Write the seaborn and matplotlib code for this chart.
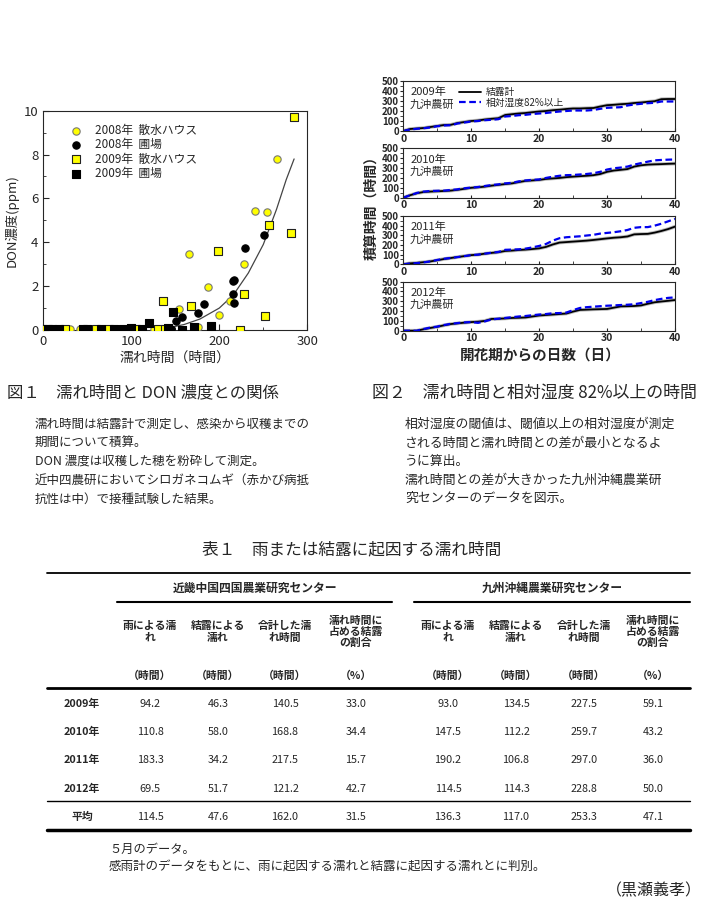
import matplotlib
matplotlib.use("Agg")
import matplotlib.pyplot as plt
from matplotlib.ticker import MultipleLocator
import seaborn as sns

# ---- Figure 1: wetness duration vs DON concentration ----
h08_x = [2, 30, 42, 126, 140, 176, 154, 165, 187, 200, 212, 228, 241, 254, 266]
h08_y = [0.03, 0.03, 0.03, 0.03, 0.03, 0.12, 0.94, 3.47, 1.95, 0.67, 1.32, 3.02, 5.43, 5.40, 7.81]
f08_x = [8, 15, 55, 70, 85, 110, 145, 151, 158, 176, 183, 216, 217, 217, 216, 229, 251]
f08_y = [0.03, 0.03, 0.03, 0.03, 0.03, 0.03, 0.03, 0.43, 0.57, 0.76, 1.17, 1.65, 1.22, 2.30, 2.25, 3.75, 4.33]
h09_x = [0, 25, 60, 75, 100, 105, 130, 138, 224, 136, 168, 199, 228, 252, 257, 282, 285]
h09_y = [0.03, 0.03, 0.03, 0.03, 0.03, 0.03, 0.03, 0.03, 0.0, 1.31, 1.11, 3.62, 1.66, 0.62, 4.77, 4.44, 9.73]
f09_x = [5, 10, 18, 45, 50, 65, 80, 90, 112, 100, 142, 158, 171, 190, 120, 147]
f09_y = [0.03, 0.03, 0.03, 0.03, 0.03, 0.03, 0.03, 0.03, 0.03, 0.1, 0.1, 0.0, 0.12, 0.18, 0.32, 0.84]

# trend curve
fit_x = [125, 140, 160, 178, 200, 216, 233, 250, 265, 276, 285]
fit_y = [0.0, 0.08, 0.25, 0.5, 1.0, 1.6, 2.6, 3.9, 5.5, 6.85, 7.8]

scatter_labels = ["2008年  散水ハウス", "2008年  圃場", "2009年  散水ハウス", "2009年  圃場"]

# ---- Figure 2: cumulative hours (dew sensor vs RH >= 82%) ----
days = list(range(41))
dew_2009 = [0, 20, 25, 30, 40, 50, 60, 62, 80, 90, 100, 105, 115, 122, 128, 160, 168, 175, 180, 188, 195,
            200, 208, 213, 220, 225, 225, 228, 230, 245, 258, 262, 268, 272, 280, 285, 292, 298, 318, 320, 320]
rh_2009 = [0, 15, 22, 28, 35, 48, 55, 58, 75, 85, 95, 100, 108, 112, 118, 145, 150, 158, 162, 170, 175,
           180, 188, 195, 200, 205, 205, 205, 210, 222, 232, 235, 238, 255, 265, 272, 278, 282, 295, 295, 295]
dew_2010 = [0, 25, 45, 58, 62, 65, 68, 72, 80, 90, 100, 105, 112, 122, 130, 138, 145, 158, 170, 175, 180,
            190, 195, 200, 208, 213, 218, 222, 228, 240, 262, 275, 282, 290, 315, 328, 335, 338, 340, 343, 345]
rh_2010 = [0, 25, 48, 62, 68, 70, 72, 78, 85, 95, 102, 108, 118, 128, 135, 145, 150, 165, 175, 180, 185,
           200, 212, 222, 228, 230, 235, 240, 248, 262, 285, 298, 305, 315, 335, 350, 365, 378, 382, 385, 387]
dew_2011 = [0, 10, 15, 22, 30, 42, 55, 65, 75, 85, 95, 100, 110, 118, 125, 138, 142, 148, 152, 158, 165,
            180, 205, 225, 230, 235, 240, 245, 252, 260, 268, 275, 280, 288, 310, 313, 315, 328, 345, 365, 390]
rh_2011 = [0, 8, 12, 20, 30, 45, 58, 65, 75, 85, 95, 100, 110, 120, 128, 150, 152, 155, 162, 175, 190,
           210, 245, 270, 280, 285, 290, 298, 305, 318, 325, 332, 342, 355, 378, 385, 385, 400, 420, 445, 470]
dew_2012 = [0, 0, 0, 15, 28, 40, 55, 68, 75, 82, 88, 92, 100, 120, 122, 125, 130, 132, 135, 145, 155,
            160, 165, 170, 175, 195, 212, 215, 218, 220, 222, 235, 248, 250, 252, 258, 275, 290, 298, 305, 313]
rh_2012 = [0, 0, 0, 18, 32, 42, 58, 70, 78, 85, 88, 80, 95, 115, 122, 130, 138, 145, 150, 158, 165,
           170, 178, 180, 185, 210, 232, 240, 245, 250, 255, 258, 262, 265, 270, 282, 295, 312, 325, 335, 340]
panel_years = ["2009年", "2010年", "2011年", "2012年"]

# ---- Table 1 ----
years = ["2009年", "2010年", "2011年", "2012年"]
kinki_rain = [94.2, 110.8, 183.3, 69.5]
kinki_dew = [46.3, 58.0, 34.2, 51.7]
kinki_total = [140.5, 168.8, 217.5, 121.2]
kinki_ratio = [33.0, 34.4, 15.7, 42.7]
kyushu_rain = [93.0, 147.5, 190.2, 114.5]
kyushu_dew = [134.5, 112.2, 106.8, 114.3]
kyushu_total = [227.5, 259.7, 297.0, 228.8]
kyushu_ratio = [59.1, 43.2, 36.0, 50.0]
kinki_mean = [114.5, 47.6, 162.0, 31.5]
kyushu_mean = [136.3, 117.0, 253.3, 47.1]
col_headers = ["雨による濡\nれ", "結露による\n濡れ", "合計した濡\nれ時間", "濡れ時間に\n占める結露\nの割合"]
col_units = ["（時間）", "（時間）", "（時間）", "（%）"]

sns.set_style("ticks")
plt.rcParams["font.family"] = ["Noto Sans CJK JP", "DejaVu Sans"]
plt.rcParams["axes.linewidth"] = 0.8

W, H = 705, 907
fig = plt.figure(figsize=(W / 100, H / 100), dpi=100)

# background axes in pixel coordinates for captions and table
bg = fig.add_axes([0, 0, 1, 1])
bg.set_xlim(0, W)
bg.set_ylim(H, 0)
bg.axis("off")


def ax_rect(x0, y0, x1, y1):
    return [x0 / W, 1 - y1 / H, (x1 - x0) / W, (y1 - y0) / H]


# ---------------- Figure 1 ----------------
ax1 = fig.add_axes(ax_rect(43.3, 110.7, 307.3, 330))
styles = [
    (h08_x, h08_y, "o", "#ffff00", "#777777"),
    (f08_x, f08_y, "o", "black", "black"),
    (h09_x, h09_y, "s", "#ffff00", "#222222"),
    (f09_x, f09_y, "s", "black", "black"),
]
for (xs, ys, mk, fc, ec), lab in zip(styles, scatter_labels):
    sns.scatterplot(x=xs, y=ys, marker=mk, color=fc, edgecolor=ec, linewidth=0.8,
                    s=28, ax=ax1, label=lab, zorder=3)
sns.lineplot(x=fit_x, y=fit_y, color="#444444", lw=0.9, ax=ax1, zorder=2)
ax1.set_xlim(0, 300)
ax1.set_ylim(0, 10)
ax1.xaxis.set_major_locator(MultipleLocator(100))
ax1.xaxis.set_minor_locator(MultipleLocator(50))
ax1.yaxis.set_major_locator(MultipleLocator(2))
ax1.yaxis.set_minor_locator(MultipleLocator(1))
ax1.tick_params(which="both", direction="in", labelsize=9.5, top=False, right=False)
ax1.tick_params(which="major", length=4)
ax1.tick_params(which="minor", length=2.5)
ax1.set_xlabel("濡れ時間（時間）", fontsize=10, labelpad=2)
ax1.set_ylabel("DON濃度(ppm)", fontsize=9.5, labelpad=4)
ax1.legend(loc="upper left", bbox_to_anchor=(0.06, 0.96), frameon=False, fontsize=8.5,
           handletextpad=0.6, labelspacing=0.1, borderaxespad=0)

# ---------------- Figure 2 ----------------
panels = [(81, 131), (148.3, 197.7), (216, 264.3), (281.7, 330.7)]
series = [(dew_2009, rh_2009), (dew_2010, rh_2010), (dew_2011, rh_2011), (dew_2012, rh_2012)]
for i, ((y0, y1), (dew, rh), yr) in enumerate(zip(panels, series, panel_years)):
    ax = fig.add_axes(ax_rect(403.3, y0, 675, y1))
    sns.lineplot(x=days, y=dew, color="#bbbbbb", lw=2.6, ax=ax)
    sns.lineplot(x=days, y=dew, color="black", lw=1.3, ax=ax, label="結露計" if i == 0 else None)
    sns.lineplot(x=days, y=rh, color="#0000ee", lw=1.6, ax=ax, dashes=(3, 1.6),
                 label="相対湿度82%以上" if i == 0 else None)
    ax.set_xlim(0, 40)
    ax.set_ylim(0, 500)
    ax.xaxis.set_major_locator(MultipleLocator(10))
    ax.xaxis.set_minor_locator(MultipleLocator(5))
    ax.yaxis.set_major_locator(MultipleLocator(100))
    ax.yaxis.set_minor_locator(MultipleLocator(50))
    ax.tick_params(axis="x", which="both", direction="in", length=2.5, labelsize=7.5, pad=2)
    ax.tick_params(axis="y", which="both", direction="out", length=2, labelsize=7, pad=1)
    for t in ax.get_xticklabels() + ax.get_yticklabels():
        t.set_fontweight("bold")
    ax.set_xlabel("")
    ax.set_ylabel("")
    ax.text(0.025, 0.88, yr + "\n九沖農研", transform=ax.transAxes, fontsize=8,
            va="top", ha="left", linespacing=1.25)
    if i == 0:
        ax.legend(loc="upper left", bbox_to_anchor=(0.19, 0.95), frameon=False, fontsize=7,
                  handlelength=2.3, handletextpad=0.5, labelspacing=0.05, borderaxespad=0)

bg.text(371, 205, "積算時間（時間）", rotation=90, ha="center", va="center",
        fontsize=10, fontweight="bold")
bg.text(540, 355, "開花期からの日数（日）", ha="center", va="center", fontsize=10.5, fontweight="bold")

# ---------------- Captions ----------------
bg.text(7, 393, "図１　濡れ時間と DON 濃度との関係", fontsize=11.8, va="center", ha="left")
bg.text(372, 393, "図２　濡れ時間と相対湿度 82%以上の時間", fontsize=12.2, va="center", ha="left")
left_notes = ["濡れ時間は結露計で測定し、感染から収穫までの", "期間について積算。",
              "DON 濃度は収穫した穂を粉砕して測定。",
              "近中四農研においてシロガネコムギ（赤かび病抵", "抗性は中）で接種試験した結果。"]
right_notes = ["相対湿度の閾値は、閾値以上の相対湿度が測定", "される時間と濡れ時間との差が最小となるよ",
               "うに算出。", "濡れ時間との差が大きかった九州沖縄農業研", "究センターのデータを図示。"]
for k, (a, b) in enumerate(zip(left_notes, right_notes)):
    yy = 424 + k * 18.7
    bg.text(35, yy, a, fontsize=9, va="center", ha="left")
    bg.text(405, yy, b, fontsize=9.3, va="center", ha="left")

# ---------------- Table ----------------
bg.text(352, 550, "表１　雨または結露に起因する濡れ時間", fontsize=12, ha="center", va="center")
bg.plot([47, 690], [573, 573], color="black", lw=1.3)
bg.text(255, 588, "近畿中国四国農業研究センター", fontsize=8.5, ha="center", va="center", fontweight="bold")
bg.text(552, 588, "九州沖縄農業研究センター", fontsize=8.5, ha="center", va="center", fontweight="bold")
bg.plot([117, 392], [602, 602], color="black", lw=1.5)
bg.plot([414, 690], [602, 602], color="black", lw=1.5)

col_x = [150, 218, 285, 356, 448, 516, 584, 653]
for j, cx in enumerate(col_x):
    bg.text(cx, 632, col_headers[j % 4], fontsize=7.8, ha="center", va="center",
            linespacing=1.15, fontweight="bold")
    bg.text(cx, 676, col_units[j % 4], fontsize=7.8, ha="center", va="center", fontweight="bold")
bg.plot([47, 690], [688, 688], color="black", lw=2)

row_y = [704, 732, 760, 789]
for r, yy in enumerate(row_y):
    vals = [kinki_rain[r], kinki_dew[r], kinki_total[r], kinki_ratio[r],
            kyushu_rain[r], kyushu_dew[r], kyushu_total[r], kyushu_ratio[r]]
    bg.text(82, yy, years[r], fontsize=7.8, ha="center", va="center", fontweight="bold")
    for cx, v in zip(col_x, vals):
        bg.text(cx, yy, f"{v:.1f}", fontsize=7.8, ha="center", va="center")
bg.plot([47, 690], [801, 801], color="black", lw=1)
bg.text(82, 817, "平均", fontsize=7.8, ha="center", va="center", fontweight="bold")
for cx, v in zip(col_x, kinki_mean + kyushu_mean):
    bg.text(cx, 817, f"{v:.1f}", fontsize=7.8, ha="center", va="center")
bg.plot([47, 690], [829.5, 829.5], color="black", lw=2.5)

bg.text(109, 849, "５月のデータ。", fontsize=8.8, ha="left", va="center")
bg.text(109, 867, "感雨計のデータをもとに、雨に起因する濡れと結露に起因する濡れとに判別。",
        fontsize=9, ha="left", va="center")
bg.text(702, 891, "（黒瀬義孝）", fontsize=11.5, ha="right", va="center")

fig.savefig("out.png", dpi=100)
